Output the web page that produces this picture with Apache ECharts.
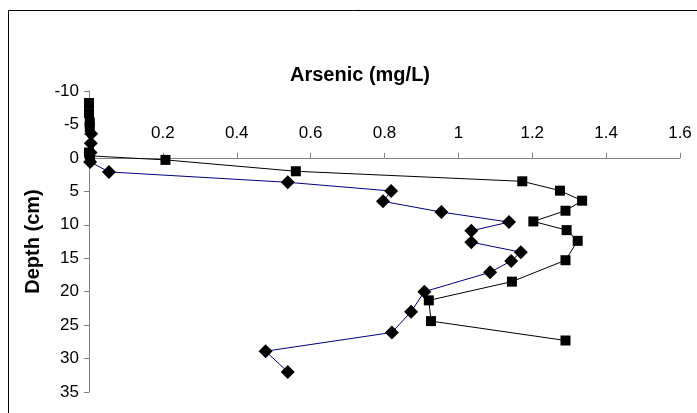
<!DOCTYPE html>
<html>
<head>
<meta charset="utf-8">
<script src="https://cdn.jsdelivr.net/npm/echarts@6/dist/echarts.min.js"></script>
<style>
  html, body { margin: 0; padding: 0; background: #fff; }
  #chart { width: 697px; height: 413px; }
</style>
</head>
<body>
<div id="chart"></div>
<script>
;(function () {

    'use strict';

    // series with square markers (black line)
    var squareDepth = [-8.2, -6.7, -5.3, -4.6, -0.8, -0.3, 0.3, 2.0, 3.5, 4.9, 6.4, 7.9, 9.5, 10.8, 12.4, 15.3, 18.5, 21.3, 24.4, 27.3];
    var squareAs = [0, 0, 0.002, 0.002, 0, 0.003, 0.207, 0.56, 1.173, 1.275, 1.335, 1.29, 1.203, 1.293, 1.323, 1.29, 1.145, 0.92, 0.926, 1.29];

    // series with diamond markers (navy line)
    var diamondDepth = [-3.6, -2.2, -0.8, 0.6, 2.1, 3.65, 4.95, 6.5, 8.1, 9.6, 10.9, 12.6, 14.1, 15.4, 17.1, 20.0, 23.0, 26.1, 28.9, 32.0];
    var diamondAs = [0.006, 0.005, 0.004, 0.003, 0.054, 0.538, 0.818, 0.796, 0.954, 1.137, 1.035, 1.035, 1.169, 1.143, 1.086, 0.908, 0.872, 0.82, 0.478, 0.538];

    var xTicks = { min: 0, max: 1.6, interval: 0.2 };
    var yTicks = { min: -10, max: 35, interval: 5 };

    var pairs = function (xs, ys) {
        return xs.map(function (x, i) { return [x, ys[i]]; });
    };

    var font = 'Liberation Sans, Arial, sans-serif';
    var gridTop = 91;

    var profileChart = function () {
        var myChart = echarts.init(document.getElementById('chart'), null, { renderer: 'canvas' });

        var option = {
            animation: false,
            backgroundColor: '#fff',
            title: {
                text: 'Arsenic (mg/L)',
                left: 285,
                top: 60,
                textStyle: { fontFamily: font, fontSize: 20, fontWeight: 'bold', color: '#000' }
            },
            graphic: [{
                type: 'rect',
                shape: { x: 8.5, y: 10.5, width: 720, height: 430 },
                style: { fill: 'none', stroke: '#000', lineWidth: 1 },
                silent: true
            }],
            grid: { left: 89, right: 17, top: gridTop, bottom: 21, containLabel: false },
            xAxis: {
                type: 'value',
                position: 'top',
                min: xTicks.min,
                max: xTicks.max,
                interval: xTicks.interval,
                axisLine: { onZero: false, lineStyle: { color: '#808080', width: 1 } },
                axisTick: { show: true, length: 5, lineStyle: { color: '#808080' } },
                axisLabel: {
                    margin: 16,
                    fontFamily: font, fontSize: 17, color: '#000',
                    formatter: function (v) { return v === 0 ? '' : String(+v.toFixed(1)); }
                },
                splitLine: { show: false }
            },
            yAxis: {
                type: 'value',
                inverse: true,
                min: yTicks.min,
                max: yTicks.max,
                interval: yTicks.interval,
                name: 'Depth (cm)',
                nameLocation: 'middle',
                nameGap: 46,
                nameTextStyle: { fontFamily: font, fontSize: 20, fontWeight: 'bold', color: '#000' },
                axisLine: { onZero: false, lineStyle: { color: '#808080', width: 1 } },
                axisTick: { show: true, length: 5, lineStyle: { color: '#808080' } },
                axisLabel: { margin: 10, fontFamily: font, fontSize: 17, color: '#000' },
                splitLine: { show: false }
            },
            series: [
                {
                    name: 'squares',
                    type: 'line',
                    data: pairs(squareAs, squareDepth),
                    symbol: 'rect',
                    symbolSize: 10,
                    itemStyle: { color: '#000' },
                    lineStyle: { color: '#000', width: 1 }
                },
                {
                    name: 'diamonds',
                    type: 'line',
                    data: pairs(diamondAs, diamondDepth),
                    symbol: 'diamond',
                    symbolSize: 14,
                    itemStyle: { color: '#000' },
                    lineStyle: { color: '#000080', width: 1 }
                }
            ]
        };
        myChart.setOption(option);

        // move the x axis down to depth 0, like Excel's "crosses at 0"
        var zeroY = myChart.convertToPixel({ yAxisIndex: 0 }, 0);
        myChart.setOption({ xAxis: { offset: -(zeroY - gridTop) } });
    };

    profileChart();

}());
</script>
</body>
</html>
